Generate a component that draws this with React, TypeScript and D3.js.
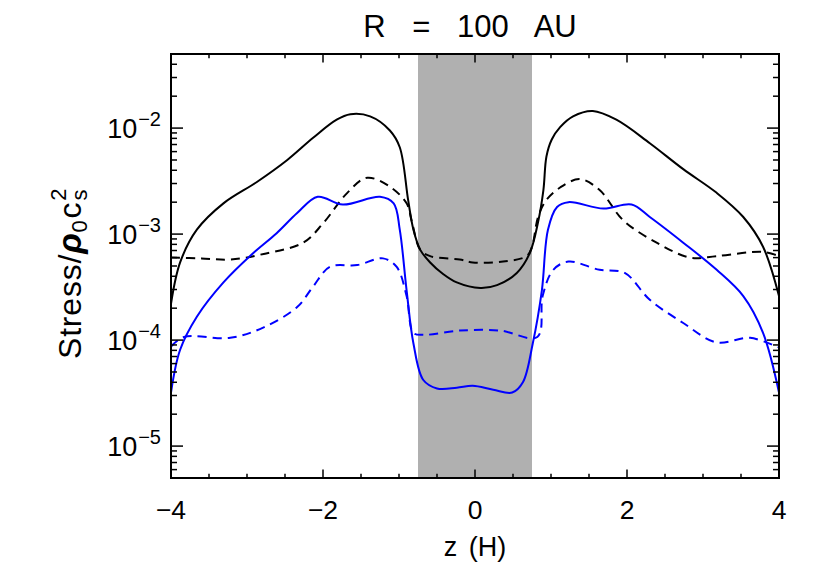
import {default as React, useEffect, useRef} from "react";
import * as d3 from "d3";

// z (in H) and stress values
const zBlackSolid = [-4.0, -3.88, -3.66, -3.31, -2.87, -2.47, -2.13, -1.82, -1.64, -1.38, -1.12, -0.99, -0.88, -0.81, -0.72, -0.59, -0.42, -0.24, 0.07, 0.29, 0.55, 0.72, 0.83, 0.9, 0.94, 1.01, 1.12, 1.29, 1.55, 1.86, 2.3, 2.74, 3.18, 3.53, 3.79, 4.0];
const blackSolid = [2.2e-4, 5.4e-4, 1.1e-3, 1.95e-3, 3.1e-3, 5.0e-3, 8.1e-3, 1.2e-2, 1.35e-2, 1.29e-2, 9.5e-3, 6.6e-3, 2.1e-3, 1.1e-3, 7.1e-4, 5.4e-4, 4.2e-4, 3.5e-4, 3.1e-4, 3.3e-4, 4.3e-4, 6.6e-4, 1.3e-3, 2.6e-3, 5.4e-3, 7.8e-3, 1.02e-2, 1.29e-2, 1.45e-2, 1.2e-2, 7.2e-3, 4.1e-3, 2.45e-3, 1.45e-3, 7.6e-4, 2.6e-4];

const zBlackDashed = [-4.0, -3.6, -3.22, -2.78, -2.26, -2.0, -1.68, -1.42, -1.12, -0.9, -0.83, -0.72, -0.59, -0.2, -0.03, 0.37, 0.68, 0.75, 0.83, 0.94, 1.12, 1.38, 1.64, 1.95, 2.39, 2.83, 3.18, 3.79, 4.0];
const blackDashed = [6.0e-4, 5.9e-4, 5.75e-4, 6.5e-4, 8.3e-4, 1.26e-3, 2.45e-3, 3.4e-3, 2.8e-3, 1.95e-3, 1.3e-3, 7.1e-4, 6.2e-4, 5.75e-4, 5.4e-4, 5.5e-4, 6.2e-4, 7.6e-4, 1.45e-3, 2.1e-3, 2.75e-3, 3.3e-3, 2.6e-3, 1.35e-3, 8.3e-4, 6.0e-4, 6.2e-4, 6.8e-4, 6.2e-4];

const zBlueSolid = [-4.0, -3.88, -3.66, -3.31, -2.92, -2.61, -2.34, -2.07, -1.74, -1.25, -1.07, -0.99, -0.9, -0.81, -0.68, -0.5, -0.24, -0.03, 0.24, 0.49, 0.63, 0.76, 0.88, 0.96, 1.08, 1.23, 1.69, 2.06, 2.3, 2.74, 3.18, 3.53, 3.79, 4.0];
const blueSolid = [3.2e-5, 8.1e-5, 1.66e-4, 3.5e-4, 6.6e-4, 1.02e-3, 1.58e-3, 2.25e-3, 1.9e-3, 2.25e-3, 1.95e-3, 1.1e-3, 2.95e-4, 9.3e-5, 4.2e-5, 3.5e-5, 3.55e-5, 3.7e-5, 3.4e-5, 3.2e-5, 4.0e-5, 9.3e-5, 2.95e-4, 1.1e-3, 1.8e-3, 2.0e-3, 1.74e-3, 1.9e-3, 1.45e-3, 8.3e-4, 4.6e-4, 2.6e-4, 1.17e-4, 3.2e-5];

const zBlueDashed = [-4.0, -3.83, -3.22, -2.78, -2.34, -2.13, -1.91, -1.55, -1.21, -1.03, -0.9, -0.81, -0.68, -0.2, 0.33, 0.82, 0.89, 1.03, 1.23, 1.64, 1.97, 2.3, 2.74, 3.18, 3.62, 4.0];
const blueDashed = [8.7e-5, 1.07e-4, 1.05e-4, 1.32e-4, 2.05e-4, 3.2e-4, 4.9e-4, 5.1e-4, 5.9e-4, 4.9e-4, 2.6e-4, 1.17e-4, 1.12e-4, 1.23e-4, 1.23e-4, 1.07e-4, 2.6e-4, 4.6e-4, 5.5e-4, 4.6e-4, 4.3e-4, 2.4e-4, 1.45e-4, 9.5e-5, 1.05e-4, 8.5e-5];

const xMajorTicks = [-4, -2, 0, 2, 4];
const yDecades = [-2, -3, -4, -5];
const shadedBand = [-0.75, 0.75];

const series = [
    {z: zBlackSolid, v: blackSolid, color: "black", dash: null},
    {z: zBlackDashed, v: blackDashed, color: "black", dash: "9,6"},
    {z: zBlueSolid, v: blueSolid, color: "#0000ff", dash: null},
    {z: zBlueDashed, v: blueDashed, color: "#0000ff", dash: "9,6"},
];

const width = 830;
const height = 586;
const margin = {
    left: 171,
    right: 51,
    top: 54,
    bottom: 108
};
const font = "'Liberation Sans', Arial, sans-serif";

export default function App() {

    const containerRef = useRef<SVGSVGElement>(null);

    useEffect(
        () => {
            updatePlot();
        },
        []
    )

    function updatePlot() {
        const svg = d3.select(containerRef.current);
        svg.selectAll("*").remove();

        const x0 = margin.left, x1 = width - margin.right;
        const y0 = height - margin.bottom, y1 = margin.top;

        const xScale = d3.scaleLinear().domain([-4, 4]).range([x0, x1]);
        const yScale = d3.scaleLog().domain([5e-6, 5e-2]).range([y0, y1]);

        // shaded midplane region
        svg.append("rect")
            .attr("x", xScale(shadedBand[0]))
            .attr("y", y1)
            .attr("width", xScale(shadedBand[1]) - xScale(shadedBand[0]))
            .attr("height", y0 - y1)
            .attr("fill", "#b0b0b0");

        const line = d3.line<[number, number]>()
            .x(d => xScale(d[0]))
            .y(d => yScale(d[1]))
            .curve(d3.curveCatmullRom.alpha(0.5));

        series.forEach(s => {
            const pts: [number, number][] = s.z.map((z, i) => [z, s.v[i]]);
            svg.append("path")
                .datum(pts)
                .attr("fill", "none")
                .attr("stroke", s.color)
                .attr("stroke-width", 2)
                .attr("stroke-dasharray", s.dash)
                .attr("d", line);
        });

        // frame
        svg.append("rect")
            .attr("x", x0).attr("y", y1)
            .attr("width", x1 - x0).attr("height", y0 - y1)
            .attr("fill", "none").attr("stroke", "black").attr("stroke-width", 2);

        const ticks = svg.append("g").attr("stroke", "black").attr("stroke-width", 1.5);

        // x ticks, bottom and top, every 0.5
        d3.range(-4, 4.01, 0.5).forEach(z => {
            const len = Math.abs(z % 2) < 1e-6 ? 8.5 : 4.3;
            const px = xScale(z);
            ticks.append("line").attr("x1", px).attr("x2", px).attr("y1", y0).attr("y2", y0 - len);
            ticks.append("line").attr("x1", px).attr("x2", px).attr("y1", y1).attr("y2", y1 + len);
        });

        // y ticks, left and right
        const yTicks: [number, boolean][] = [];
        for (let e = -6; e <= -2; e++) {
            for (let m = 1; m <= 9; m++) {
                const v = m * Math.pow(10, e);
                if (v >= 5e-6 && v <= 5e-2) yTicks.push([v, m === 1]);
            }
        }
        yTicks.forEach(([v, major]) => {
            const len = major ? 12 : 6;
            const py = yScale(v);
            ticks.append("line").attr("x1", x0).attr("x2", x0 + len).attr("y1", py).attr("y2", py);
            ticks.append("line").attr("x1", x1).attr("x2", x1 - len).attr("y1", py).attr("y2", py);
        });

        // x tick labels
        svg.append("g")
            .selectAll("text")
            .data(xMajorTicks)
            .join("text")
            .attr("x", d => xScale(d))
            .attr("y", y0 + 41)
            .attr("text-anchor", "middle")
            .attr("font-family", font)
            .attr("font-size", 26.5)
            .text(d => d < 0 ? "\u2212" + Math.abs(d) : String(d));

        // y tick labels
        const yl = svg.append("g")
            .selectAll("text")
            .data(yDecades)
            .join("text")
            .attr("x", x0 - 10)
            .attr("y", d => yScale(Math.pow(10, d)) + 9.5)
            .attr("text-anchor", "end")
            .attr("font-family", font)
            .attr("font-size", 27);
        yl.append("tspan").text("10");
        yl.append("tspan")
            .attr("font-size", 20)
            .attr("dx", 1)
            .attr("dy", -12)
            .text(d => "\u2212" + Math.abs(d));

        // x axis title
        svg.append("text")
            .attr("x", (x0 + x1) / 2)
            .attr("y", 556)
            .attr("text-anchor", "middle")
            .attr("font-family", font)
            .attr("font-size", 27)
            .style("word-spacing", "4px")
            .text("z (H)");

        // plot title
        svg.append("text")
            .attr("x", 470)
            .attr("y", 37)
            .attr("text-anchor", "middle")
            .attr("font-family", font)
            .attr("font-size", 31)
            .style("word-spacing", "18px")
            .text("R = 100 AU");

        // y axis title
        const yt = svg.append("text")
            .attr("transform", "translate(81,359) rotate(-90)")
            .attr("text-anchor", "start")
            .attr("font-family", font)
            .attr("font-size", 32)
            .attr("letter-spacing", 0.8);
        yt.append("tspan").text("Stress/");
        yt.append("tspan").attr("font-style", "italic").attr("font-weight", "bold").attr("font-size", 34).text("\u03c1");
        yt.append("tspan").attr("font-size", 22).attr("dy", 6).text("0");
        yt.append("tspan").attr("dx", 1).attr("dy", -6).text("c");
        yt.append("tspan").attr("font-size", 22).attr("dx", 1).attr("dy", 6).text("s");
        yt.append("tspan").attr("font-size", 22).attr("dx", -12).attr("dy", -21).text("2");
    }

    return (
        <svg
            width={width}
            height={height}
            style={{backgroundColor: "white", position: "absolute", left: 0, top: 0}}
            ref={containerRef}
        />
    );

}
